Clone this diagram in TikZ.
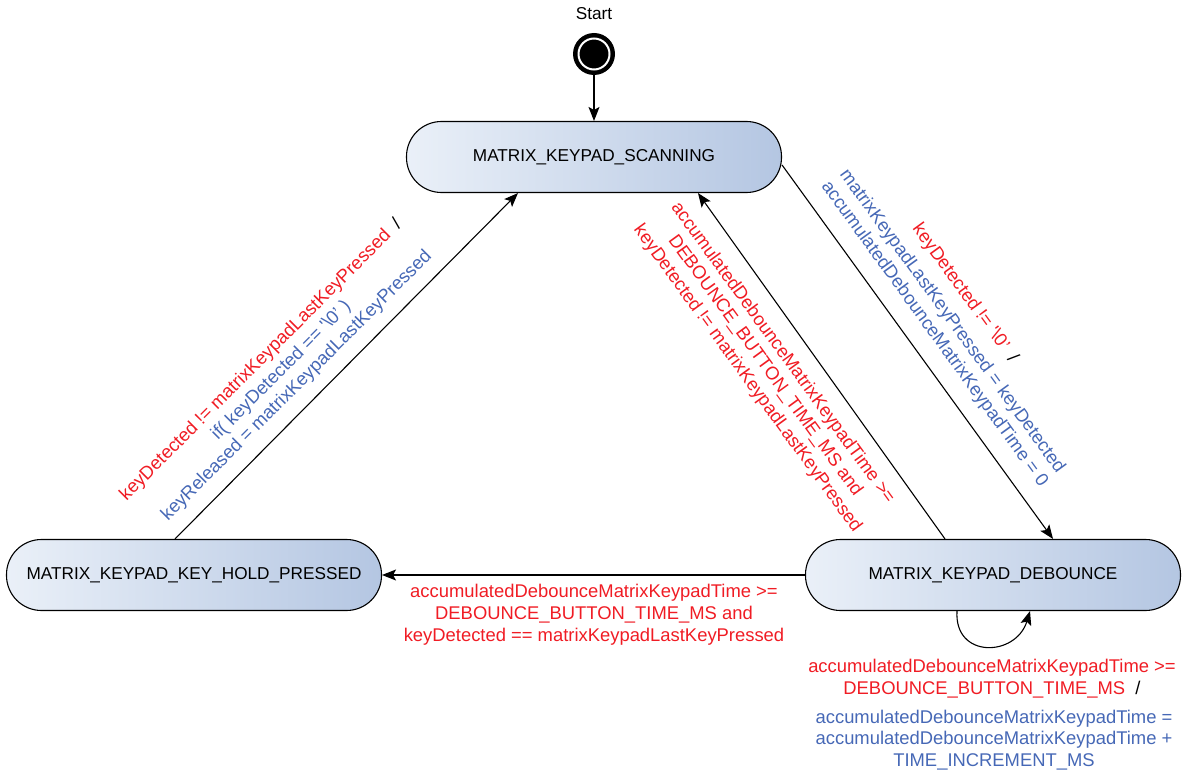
\documentclass[tikz,border=0pt]{standalone}
\usepackage{fontspec}
\setmainfont{Liberation Sans}
\usetikzlibrary{arrows.meta}
\definecolor{lred}{RGB}{240,28,36}
\definecolor{lblue}{RGB}{70,104,182}
\definecolor{fillL}{RGB}{234,240,248}
\definecolor{fillR}{RGB}{180,198,226}
\begin{document}
\begin{tikzpicture}[x=1pt,y=-1pt,
  every node/.style={font=\fontsize{17.2}{21.5}\selectfont},
  state/.style={draw=black, line width=1.1pt, rounded corners=35pt, minimum width=375pt, minimum height=71pt, left color=fillL, right color=fillR, inner sep=0pt},
  conn/.style={line width=1.1pt, -{Stealth[length=14pt,width=11pt,inset=3pt]}},
  lbl/.style={align=center, inner sep=0pt, font=\fontsize{18.4}{21.8}\selectfont},
  redlbl/.style={lbl, text=lred},
  bluelbl/.style={lbl, text=lblue}
]
\useasboundingbox (0,0) rectangle (1183,773);

% start
\node (startlbl) at (594,14) {Start};
\node[circle, fill=black, minimum size=42pt, inner sep=0pt] (start) at (594,54) {};
\node[circle, draw=white, line width=2pt, minimum size=31pt, inner sep=0pt] (startring) at (start) {};

% states
\node[state] (scan) at (594,157) {MATRIX\_KEYPAD\_SCANNING};
\node[state] (hold) at (194,575) {MATRIX\_KEYPAD\_KEY\_HOLD\_PRESSED};
\node[state] (deb) at (993,575) {MATRIX\_KEYPAD\_DEBOUNCE};

% connectors
\draw[conn] (start) -- (scan);
\draw[conn] ([yshift=-8pt]scan.east) -- ([xshift=60pt]deb.north);
\draw[conn] ([xshift=-48pt]deb.north) -- ([xshift=104pt]scan.south);
\draw[conn] ([xshift=-19pt]hold.north) -- ([xshift=-76pt]scan.south);
\draw[conn] (deb.west) -- (hold.east);
\draw[conn] ([xshift=-36pt]deb.south) .. controls +(-3,48) and +(-14,46) .. ([xshift=37pt]deb.south);

% labels
\node[bluelbl, rotate=-54] (lblSD) at (954,320) {{\color{lred}keyDetected != \textquotesingle\textbackslash 0'}~~{\color{black}/}\rule{30pt}{0pt}\\[5pt] matrixKeypadLastKeyPressed = keyDetected\\ accumulatedDebounceMatrixKeypadTime = 0};

\node[redlbl, rotate=-54] (lblDS) at (765,366) {accumulatedDebounceMatrixKeypadTime >=\\ DEBOUNCE\_BUTTON\_TIME\_MS and\\ keyDetected != matrixKeypadLastKeyPressed};

\node[bluelbl, rotate=45] (lblHS) at (281.5,370.5) {{\color{lred}keyDetected != matrixKeypadLastKeyPressed}~~{\color{black}/}\rule{14pt}{0pt}\\ if( keyDetected == \textquotesingle\textbackslash 0' )\\ keyReleased = matrixKeypadLastKeyPressed};

\node[redlbl] (lblDH) at (594,615) {accumulatedDebounceMatrixKeypadTime >=\\ DEBOUNCE\_BUTTON\_TIME\_MS and\\ keyDetected == matrixKeypadLastKeyPressed};

\node[redlbl] (lblDDr) at (992,679) {accumulatedDebounceMatrixKeypadTime >=\\ DEBOUNCE\_BUTTON\_TIME\_MS~~{\color{black}/}};
\node[bluelbl] (lblDDb) at (994,740) {accumulatedDebounceMatrixKeypadTime =\\ accumulatedDebounceMatrixKeypadTime +\\ TIME\_INCREMENT\_MS};
\end{tikzpicture}
\end{document}
